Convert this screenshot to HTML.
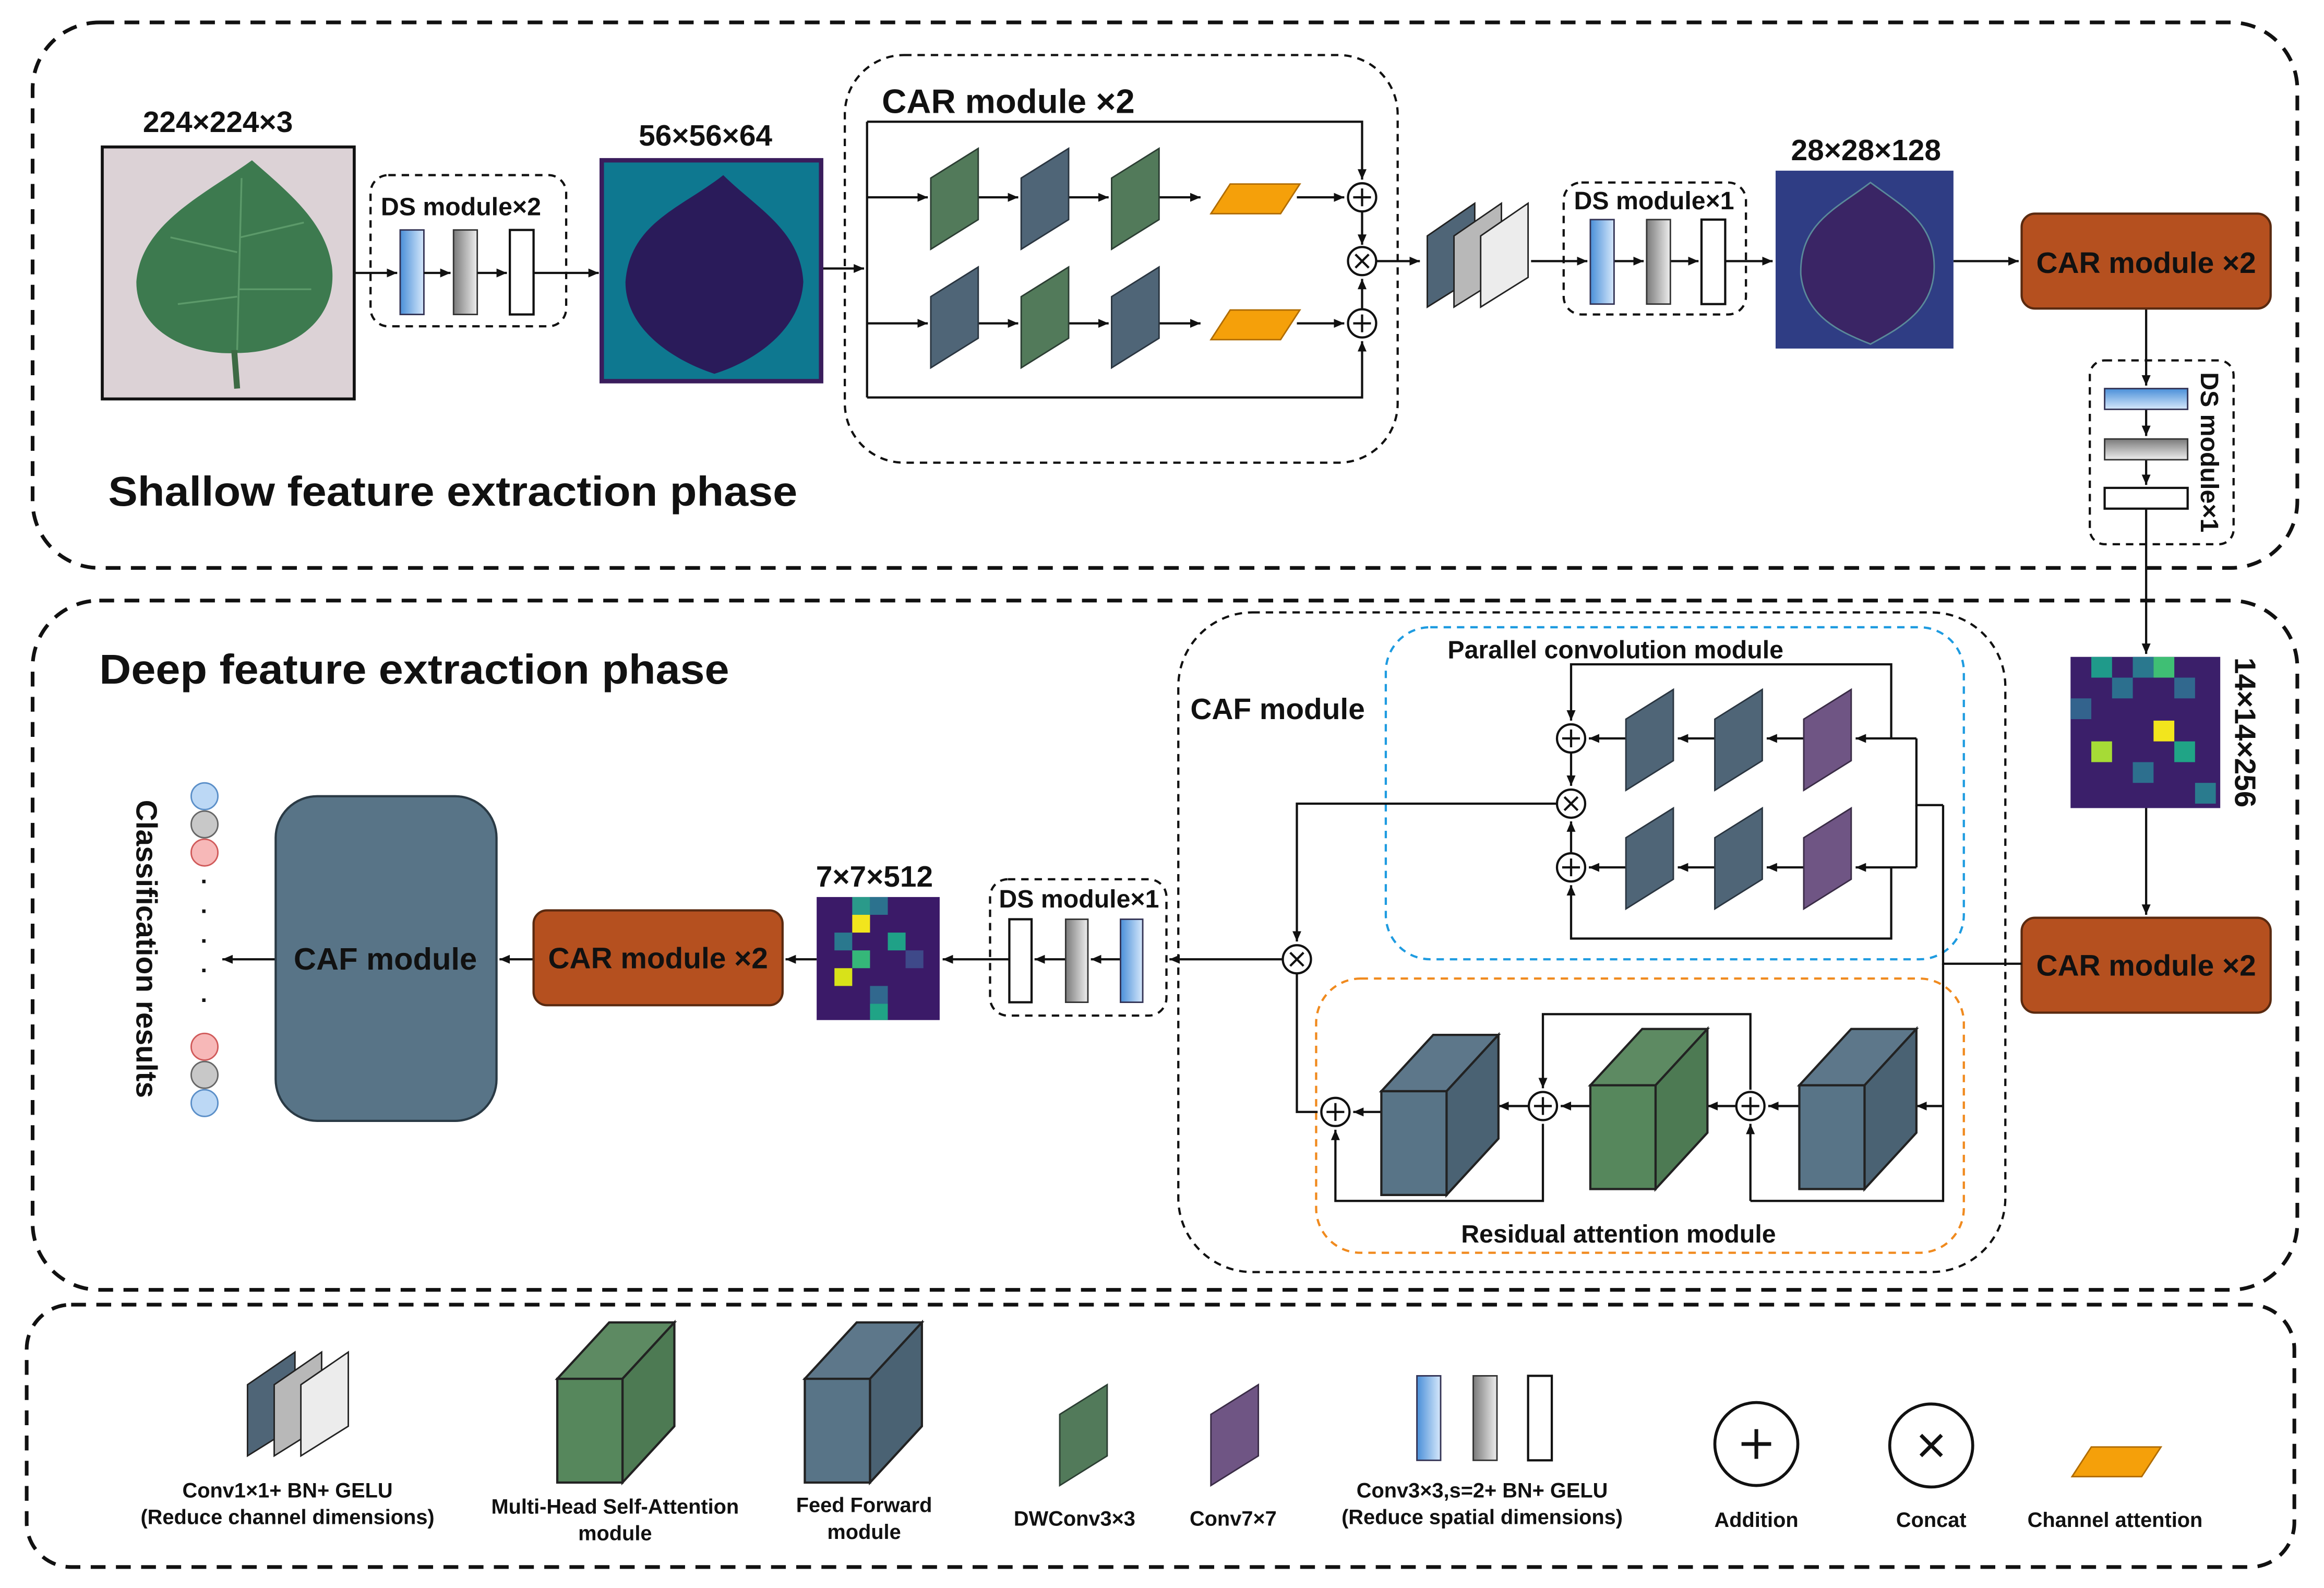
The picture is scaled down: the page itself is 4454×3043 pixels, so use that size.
<!DOCTYPE html>
<html><head><meta charset="utf-8"><style>
html,body{margin:0;padding:0;background:#fff}
svg{display:block}
text{font-family:"Liberation Sans",Arial,sans-serif;font-weight:bold;fill:#111}
</style></head><body>
<svg width="4454" height="3043" viewBox="0 0 1568 1071" xmlns="http://www.w3.org/2000/svg">
<defs>
<marker id="a" markerWidth="8" markerHeight="8" refX="7" refY="4" orient="auto" markerUnits="userSpaceOnUse"><path d="M0,1 L7,4 L0,7 z" fill="#111"/></marker>
<linearGradient id="gb" x1="0" x2="1"><stop offset="0" stop-color="#4a8fd8"/><stop offset="1" stop-color="#d6e8fb"/></linearGradient>
<linearGradient id="gg" x1="0" x2="1"><stop offset="0" stop-color="#7a7a7a"/><stop offset="1" stop-color="#eeeeee"/></linearGradient>
<linearGradient id="gbv" x1="0" y1="0" x2="0" y2="1"><stop offset="0" stop-color="#4a8fd8"/><stop offset="1" stop-color="#d6e8fb"/></linearGradient>
<linearGradient id="ggv" x1="0" y1="0" x2="0" y2="1"><stop offset="0" stop-color="#7a7a7a"/><stop offset="1" stop-color="#eeeeee"/></linearGradient>
<g id="pG"><polygon points="0,20 32,0 32,48 0,68" fill="#527a5a" stroke="#2c3e33" stroke-width="1"/></g>
<g id="pS"><polygon points="0,20 32,0 32,48 0,68" fill="#4f6577" stroke="#2a3540" stroke-width="1"/></g>
<g id="pP"><polygon points="0,20 32,0 32,48 0,68" fill="#6f5584" stroke="#3a2c46" stroke-width="1"/></g>
<g id="pO"><polygon points="0,20 13,0 60,0 47,20" fill="#f5a00a" stroke="#b06c00" stroke-width="1"/></g>
<g id="cS"><polygon points="0,38 35,0 79,0 44,38" fill="#5d778a" stroke="#222" stroke-width="1.5"/><polygon points="44,38 79,0 79,70 44,108" fill="#4a6273" stroke="#222" stroke-width="1.5"/><rect x="0" y="38" width="44" height="70" fill="#587487" stroke="#222" stroke-width="1.5"/></g>
<g id="cG"><polygon points="0,38 35,0 79,0 44,38" fill="#5d8a62" stroke="#222" stroke-width="1.5"/><polygon points="44,38 79,0 79,70 44,108" fill="#4d7a53" stroke="#222" stroke-width="1.5"/><rect x="0" y="38" width="44" height="70" fill="#56875c" stroke="#222" stroke-width="1.5"/></g>
<g id="st"><polygon points="0,22 32,0 32,50 0,70" fill="#4f6577" stroke="#222"/><polygon points="18,22 50,0 50,50 18,70" fill="#b8b8b8" stroke="#222"/><polygon points="36,22 68,0 68,50 36,70" fill="#ececec" stroke="#222"/></g>
<g id="plus"><circle r="9.5" fill="#fff" stroke="#111" stroke-width="1.5"/><path d="M-6,0H6M0,-6V6" stroke="#111" stroke-width="1.5"/></g>
<g id="tim"><circle r="9.5" fill="#fff" stroke="#111" stroke-width="1.5"/><path d="M-4.5,-4.5L4.5,4.5M4.5,-4.5L-4.5,4.5" stroke="#111" stroke-width="1.5"/></g>
</defs>
<g fill="none" stroke="#111" stroke-width="2.5" stroke-dasharray="10,7">
<rect x="22" y="15" width="1528" height="368" rx="45"/>
<rect x="22" y="405" width="1528" height="465" rx="45"/>
<rect x="18" y="880" width="1530" height="177" rx="30"/>
</g>
<!-- shallow -->
<text x="147" y="89" font-size="20" text-anchor="middle">224×224×3</text>
<rect x="69" y="99" width="170" height="170" fill="#dcd2d6" stroke="#111" stroke-width="2"/>
<path d="M170,108 C140,130 95,150 92,190 C92,225 130,240 160,238 C195,238 228,218 224,180 C220,150 195,130 170,108 Z" fill="#3d7a4f"/>
<path d="M158,236 L160,262" stroke="#3d6a44" stroke-width="4"/>
<path d="M163,120 L160,236 M160,170 L115,160 M160,200 L120,205 M162,160 L205,150 M161,195 L210,195" stroke="#5c9a6a" stroke-width="1.2" fill="none"/>
<g fill="none" stroke="#111" stroke-width="1.5" stroke-dasharray="5,4"><rect x="250" y="118" width="132" height="102" rx="12"/><rect x="570" y="37" width="373" height="275" rx="40"/><rect x="1055" y="123" width="123" height="89" rx="12"/><rect x="1410" y="243" width="97" height="124" rx="10"/><rect x="795" y="413" width="558" height="445" rx="50"/><rect x="668" y="593" width="119" height="92" rx="12"/></g>
<text x="311" y="145" font-size="17" text-anchor="middle">DS module×2</text>
<rect x="270" y="155" width="16" height="57" fill="url(#gb)" stroke="#335"/><rect x="306" y="155" width="16" height="57" fill="url(#gg)" stroke="#333"/><rect x="344" y="155" width="16" height="57" fill="#fff" stroke="#111" stroke-width="1.5"/>
<g stroke="#111" stroke-width="1.5" fill="none" marker-end="url(#a)">
<path d="M239,184H268"/><path d="M286,184H304"/><path d="M322,184H342"/><path d="M360,184H404"/><path d="M554,181H583"/>
</g>
<text x="476" y="98" font-size="20" text-anchor="middle">56×56×64</text>
<rect x="406" y="108" width="148" height="149" fill="#0e7890" stroke="#3a1d5c" stroke-width="3"/>
<path d="M488,118 C460,140 425,150 422,190 C422,225 460,245 482,252 C505,245 540,225 542,190 C540,155 510,140 488,118 Z" fill="#2a1b5a"/>
<text x="595" y="76" font-size="23" >CAR module ×2</text>
<g stroke="#111" stroke-width="1.5" fill="none">
<path d="M585,82V268"/><path d="M585,82H919V121" marker-end="url(#a)"/><path d="M585,268H919V230" marker-end="url(#a)"/>
<path d="M585,133H626" marker-end="url(#a)"/><path d="M660,133H687" marker-end="url(#a)"/><path d="M721,133H748" marker-end="url(#a)"/><path d="M782,133H810" marker-end="url(#a)"/><path d="M875,133H907" marker-end="url(#a)"/>
<path d="M585,218H626" marker-end="url(#a)"/><path d="M660,218H687" marker-end="url(#a)"/><path d="M721,218H748" marker-end="url(#a)"/><path d="M782,218H810" marker-end="url(#a)"/><path d="M875,218H907" marker-end="url(#a)"/>
<path d="M919,143V165" marker-end="url(#a)"/><path d="M919,208V188" marker-end="url(#a)"/>
<path d="M929,176H958" marker-end="url(#a)"/><path d="M1033,176H1071" marker-end="url(#a)"/><path d="M1089,176H1109" marker-end="url(#a)"/><path d="M1127,176H1146" marker-end="url(#a)"/><path d="M1164,176H1196" marker-end="url(#a)"/><path d="M1318,176H1362" marker-end="url(#a)"/>
<path d="M1448,208V260" marker-end="url(#a)"/><path d="M1448,276V294" marker-end="url(#a)"/><path d="M1448,310V327" marker-end="url(#a)"/><path d="M1448,343V441" marker-end="url(#a)"/><path d="M1448,545V617" marker-end="url(#a)"/>
</g>
<use href="#pG" x="628" y="100"/><use href="#pS" x="689" y="100"/><use href="#pG" x="750" y="100"/>
<use href="#pS" x="628" y="180"/><use href="#pG" x="689" y="180"/><use href="#pS" x="750" y="180"/>
<use href="#pO" x="817" y="124"/><use href="#pO" x="817" y="209"/>
<use href="#plus" x="919" y="133"/><use href="#plus" x="919" y="218"/><use href="#tim" x="919" y="176"/>
<use href="#st" x="963" y="137"/>
<text x="1116" y="141" font-size="17" text-anchor="middle">DS module×1</text>
<rect x="1073" y="148" width="16" height="57" fill="url(#gb)" stroke="#335"/><rect x="1111" y="148" width="16" height="57" fill="url(#gg)" stroke="#333"/><rect x="1148" y="148" width="16" height="57" fill="#fff" stroke="#111" stroke-width="1.5"/>
<text x="1259" y="108" font-size="20" text-anchor="middle">28×28×128</text>
<rect x="1198" y="115" width="120" height="120" fill="#2f3d84"/>
<path d="M1262,123 C1240,140 1214,150 1215,185 C1218,215 1245,225 1262,232 C1280,222 1305,210 1305,180 C1305,150 1285,140 1262,123 Z" fill="#3a2565" stroke="#5a8a9a" stroke-width="1"/>
<rect x="1364" y="144" width="168" height="64" rx="9" fill="#b5501f" stroke="#5a2a10" stroke-width="1.5"/>
<text x="1448" y="184" font-size="20" text-anchor="middle">CAR module ×2</text>
<rect x="1420" y="262" width="56" height="14" fill="url(#gbv)" stroke="#335"/><rect x="1420" y="296" width="56" height="14" fill="url(#ggv)" stroke="#333"/><rect x="1420" y="329" width="56" height="14" fill="#fff" stroke="#111" stroke-width="1.5"/>
<text transform="translate(1485,305) rotate(90)" font-size="17" text-anchor="middle">DS module×1</text>
<text x="73" y="341" font-size="28" textLength="465" lengthAdjust="spacingAndGlyphs">Shallow feature extraction phase</text>
<!-- deep -->
<text x="67" y="461" font-size="28" textLength="425" lengthAdjust="spacingAndGlyphs">Deep feature extraction phase</text>
<g>
<rect x="1397" y="443" width="101" height="102" fill="#3b1f6a"/>
<rect x="1411" y="443" width="14" height="14" fill="#1f9a8a"/><rect x="1439" y="443" width="14" height="14" fill="#2a788e"/><rect x="1453" y="443" width="14" height="14" fill="#3fbf74"/><rect x="1425" y="457" width="14" height="14" fill="#2c6f8e"/><rect x="1467" y="457" width="14" height="14" fill="#31688e"/><rect x="1453" y="486" width="14" height="14" fill="#f2e51d"/><rect x="1411" y="500" width="14" height="14" fill="#a6db36"/><rect x="1467" y="500" width="14" height="14" fill="#20a486"/><rect x="1439" y="514" width="14" height="14" fill="#2d6f8e"/><rect x="1397" y="471" width="14" height="14" fill="#33638d"/><rect x="1481" y="528" width="14" height="14" fill="#2a7b8e"/>
</g>
<text transform="translate(1508,494) rotate(90)" font-size="20" text-anchor="middle">14×14×256</text>
<rect x="1364" y="619" width="168" height="64" rx="9" fill="#b5501f" stroke="#5a2a10" stroke-width="1.5"/>
<text x="1448" y="658" font-size="20" text-anchor="middle">CAR module ×2</text>
<text x="862" y="485" font-size="20" text-anchor="middle">CAF module</text>
<rect x="935" y="423" width="390" height="224" rx="30" fill="none" stroke="#1e9be0" stroke-width="1.5" stroke-dasharray="5,4"/>
<text x="1090" y="444" font-size="17" text-anchor="middle">Parallel convolution module</text>
<rect x="888" y="660" width="437" height="185" rx="30" fill="none" stroke="#f08a1e" stroke-width="1.5" stroke-dasharray="5,4"/>
<text x="1092" y="838" font-size="17" text-anchor="middle">Residual attention module</text>
<g stroke="#111" stroke-width="1.5" fill="none">
<path d="M1364,650H1311V543"/><path d="M1311,650V810H1181"/>
<path d="M1311,543H1293V498"/><path d="M1293,543V585"/>
<path d="M1293,498H1252" marker-end="url(#a)"/><path d="M1293,585H1252" marker-end="url(#a)"/>
<path d="M1217,498H1192" marker-end="url(#a)"/><path d="M1157,498H1132" marker-end="url(#a)"/><path d="M1097,498H1072" marker-end="url(#a)"/>
<path d="M1217,585H1192" marker-end="url(#a)"/><path d="M1157,585H1132" marker-end="url(#a)"/><path d="M1097,585H1072" marker-end="url(#a)"/>
<path d="M1276,498V448H1060V486" marker-end="url(#a)"/><path d="M1276,585V633H1060V597" marker-end="url(#a)"/>
<path d="M1060,508V530" marker-end="url(#a)"/><path d="M1060,575V554" marker-end="url(#a)"/>
<path d="M1050,542H875V635" marker-end="url(#a)"/><path d="M875,657V750H889" />
<path d="M1311,746H1293" marker-end="url(#a)"/>
<path d="M1214,746H1193" marker-end="url(#a)"/><path d="M1171,746H1152" marker-end="url(#a)"/><path d="M1073,746H1053" marker-end="url(#a)"/><path d="M1031,746H1011" marker-end="url(#a)"/><path d="M932,750H913" marker-end="url(#a)"/>
<path d="M1181,810V758" marker-end="url(#a)"/>
<path d="M1181,735V684H1041V734" marker-end="url(#a)"/>
<path d="M1041,758V810H901V762" marker-end="url(#a)"/>
<path d="M865,647H789" marker-end="url(#a)"/><path d="M756,647H736" marker-end="url(#a)"/><path d="M719,647H698" marker-end="url(#a)"/><path d="M681,647H636" marker-end="url(#a)"/>
<path d="M551,647H530" marker-end="url(#a)"/><path d="M360,647H337" marker-end="url(#a)"/><path d="M186,647H150" marker-end="url(#a)"/>
</g>
<use href="#pP" x="1217" y="465"/><use href="#pS" x="1157" y="465"/><use href="#pS" x="1097" y="465"/>
<use href="#pP" x="1217" y="545"/><use href="#pS" x="1157" y="545"/><use href="#pS" x="1097" y="545"/>
<use href="#plus" x="1060" y="498"/><use href="#plus" x="1060" y="585"/><use href="#tim" x="1060" y="542"/>
<use href="#tim" x="875" y="647"/>
<use href="#cS" x="932" y="698"/><use href="#cG" x="1073" y="694"/><use href="#cS" x="1214" y="694"/>
<use href="#plus" x="901" y="750"/><use href="#plus" x="1041" y="746"/><use href="#plus" x="1181" y="746"/>
<text x="728" y="612" font-size="17" text-anchor="middle">DS module×1</text>
<rect x="681" y="620" width="15" height="56" fill="#fff" stroke="#111" stroke-width="1.5"/><rect x="719" y="620" width="15" height="56" fill="url(#gg)" stroke="#333"/><rect x="756" y="620" width="15" height="56" fill="url(#gb)" stroke="#335"/>
<text x="590" y="598" font-size="20" text-anchor="middle">7×7×512</text>
<g>
<rect x="551" y="605" width="83" height="83" fill="#3b1a68"/>
<rect x="575" y="605" width="12" height="12" fill="#2a9a8a"/><rect x="587" y="605" width="12" height="12" fill="#2c728e"/><rect x="575" y="617" width="12" height="12" fill="#f2e51d"/><rect x="563" y="629" width="12" height="12" fill="#2a788e"/><rect x="599" y="629" width="12" height="12" fill="#1fa187"/><rect x="563" y="653" width="12" height="12" fill="#d8e219"/><rect x="575" y="641" width="12" height="12" fill="#35b779"/><rect x="587" y="665" width="12" height="12" fill="#31688e"/><rect x="587" y="677" width="12" height="11" fill="#20a486"/><rect x="611" y="641" width="12" height="12" fill="#3e4989"/>
</g>
<rect x="360" y="614" width="168" height="64" rx="9" fill="#b5501f" stroke="#5a2a10" stroke-width="1.5"/>
<text x="444" y="653" font-size="20" text-anchor="middle">CAR module ×2</text>
<rect x="186" y="537" width="149" height="219" rx="28" fill="#587487" stroke="#2a3a45" stroke-width="1.5"/>
<text x="260" y="654" font-size="21" text-anchor="middle">CAF module</text>
<circle cx="138" cy="537" r="9" fill="#bcd8f5" stroke="#5b8fc8"/><circle cx="138" cy="556" r="9" fill="#c8c8c8" stroke="#666"/><circle cx="138" cy="575" r="9" fill="#f7b8b8" stroke="#d05a5a"/>
<text x="138" y="600" font-size="16" text-anchor="middle">·</text><text x="138" y="620" font-size="16" text-anchor="middle">·</text><text x="138" y="640" font-size="16" text-anchor="middle">·</text><text x="138" y="660" font-size="16" text-anchor="middle">·</text><text x="138" y="680" font-size="16" text-anchor="middle">·</text>
<circle cx="138" cy="706" r="9" fill="#f7b8b8" stroke="#d05a5a"/><circle cx="138" cy="725" r="9" fill="#c8c8c8" stroke="#666"/><circle cx="138" cy="744" r="9" fill="#bcd8f5" stroke="#5b8fc8"/>
<text transform="translate(92,640) rotate(90)" font-size="20" text-anchor="middle">Classification results</text>
<!-- legend -->
<use href="#st" x="167" y="912"/>
<text x="194" y="1010" font-size="14" text-anchor="middle">Conv1×1+ BN+ GELU</text>
<text x="194" y="1028" font-size="14" text-anchor="middle">(Reduce channel dimensions)</text>
<use href="#cG" x="376" y="892"/>
<text x="415" y="1021" font-size="14" text-anchor="middle">Multi-Head Self-Attention</text>
<text x="415" y="1039" font-size="14" text-anchor="middle">module</text>
<use href="#cS" x="543" y="892"/>
<text x="583" y="1020" font-size="14" text-anchor="middle">Feed Forward</text>
<text x="583" y="1038" font-size="14" text-anchor="middle">module</text>
<use href="#pG" x="715" y="934"/>
<text x="725" y="1029" font-size="14" text-anchor="middle">DWConv3×3</text>
<use href="#pP" x="817" y="934"/>
<text x="832" y="1029" font-size="14" text-anchor="middle">Conv7×7</text>
<rect x="956" y="928" width="16" height="57" fill="url(#gb)" stroke="#335"/><rect x="994" y="928" width="16" height="57" fill="url(#gg)" stroke="#333"/><rect x="1031" y="928" width="16" height="57" fill="#fff" stroke="#111" stroke-width="1.5"/>
<text x="1000" y="1010" font-size="14" text-anchor="middle">Conv3×3,s=2+ BN+ GELU</text>
<text x="1000" y="1028" font-size="14" text-anchor="middle">(Reduce spatial dimensions)</text>
<circle cx="1185" cy="974" r="28" fill="#fff" stroke="#111" stroke-width="2"/><path d="M1175,974H1195M1185,964V984" stroke="#111" stroke-width="2.5"/>
<text x="1185" y="1030" font-size="14" text-anchor="middle">Addition</text>
<circle cx="1303" cy="975" r="28" fill="#fff" stroke="#111" stroke-width="2"/><path d="M1296,968L1310,982M1310,968L1296,982" stroke="#111" stroke-width="2.5"/>
<text x="1303" y="1030" font-size="14" text-anchor="middle">Concat</text>
<use href="#pO" x="1398" y="976"/>
<text x="1427" y="1030" font-size="14" text-anchor="middle">Channel attention</text>
</svg>
</body></html>
